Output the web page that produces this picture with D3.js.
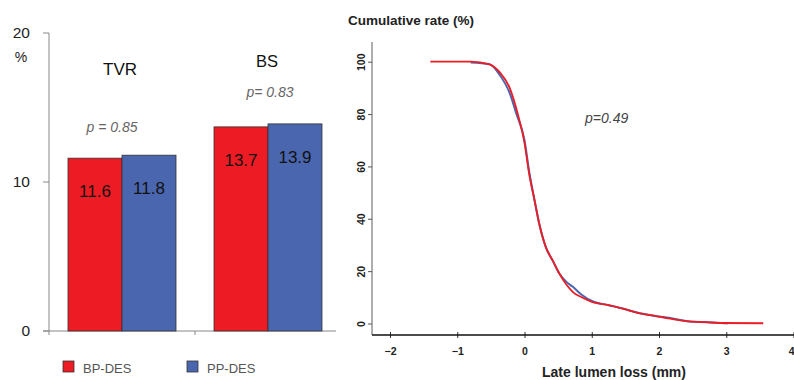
<!DOCTYPE html>
<html>
<head>
<meta charset="utf-8">
<script src="https://cdn.jsdelivr.net/npm/d3@7"></script>
<style>
  body { margin: 0; background: #fff; }
  svg { display: block; font-family: "Liberation Sans", Arial, sans-serif; }
</style>
</head>
<body>
<svg id="chart" width="794" height="380"></svg>
<script>
// left panel: event rates (%)
var endpoints = ['TVR', 'BS'];
var groups = ['BP-DES', 'PP-DES'];
var bpRates = [11.6, 13.7];
var ppRates = [11.8, 13.9];
var pValues = ['p = 0.85', 'p= 0.83'];
var rateTicks = [0, 10, 20];

// right panel: cumulative distribution of late lumen loss
var bpLoss = [-1.40, -0.80, -0.52, -0.37, -0.22, -0.10, 0.0, 0.07, 0.15, 0.22, 0.32, 0.42, 0.52, 0.62, 0.72, 0.85, 1.01, 1.25, 1.46, 1.70, 1.96, 2.20, 2.45, 2.70, 2.95, 3.55];
var bpCum  = [100, 100, 99, 96, 90, 80, 69, 57, 47, 38, 29, 24, 19, 15, 12, 10, 8.2, 7, 5.7, 4, 2.8, 1.7, 0.8, 0.5, 0.2, 0.1];
var ppLoss = [-0.80, -0.52, -0.37, -0.22, -0.12, 0.0, 0.07, 0.15, 0.22, 0.32, 0.42, 0.52, 0.62, 0.72, 0.85, 1.01, 1.25, 1.46, 1.70, 1.96, 2.15, 2.45, 2.70, 3.02];
var ppCum  = [99.7, 99, 95, 88, 80, 70, 58, 47, 38, 29, 24, 19, 16, 14, 11, 8.5, 7, 5.7, 4, 2.8, 2.2, 0.8, 0.5, 0];
var lossTicks = [-2, -1, 0, 1, 2, 3, 4];
var cumTicks = [0, 20, 40, 60, 80, 100];
var pCurve = 'p=0.49';

var RED = '#ed1c24', BLUE = '#4a66ae';

var svg = d3.select('#chart');

// ---------- bar chart ----------
var x0 = d3.scaleBand().domain(endpoints).range([49, 341]);
var x1 = d3.scaleBand().domain(groups).range([-54, 54]);
var yL = d3.scaleLinear().domain([0, 20]).range([331, 33]);

var left = svg.append('g');

left.append('line')
    .attr('x1', 49).attr('x2', 49)
    .attr('y1', yL(20)).attr('y2', yL(0))
    .attr('stroke', '#888');
left.append('line')
    .attr('x1', 43).attr('x2', 336)
    .attr('y1', yL(0)).attr('y2', yL(0))
    .attr('stroke', '#888');

rateTicks.forEach(function (t) {
    left.append('line')
        .attr('x1', 43).attr('x2', 49)
        .attr('y1', yL(t)).attr('y2', yL(t))
        .attr('stroke', '#888');
    left.append('text')
        .attr('x', 30).attr('y', yL(t) + 5)
        .attr('text-anchor', 'end')
        .attr('font-size', 15.5)
        .attr('fill', '#222')
        .text(t);
});
left.append('text')
    .attr('x', 21).attr('y', 62)
    .attr('text-anchor', 'middle')
    .attr('font-size', 14)
    .attr('fill', '#222')
    .text('%');

[49, 195].forEach(function (xx) {
    left.append('line')
        .attr('x1', xx).attr('x2', xx)
        .attr('y1', yL(0)).attr('y2', yL(0) + 4)
        .attr('stroke', '#888');
});

var barData = [];
endpoints.forEach(function (e, i) {
    barData.push({ ep: e, grp: groups[0], v: bpRates[i], c: RED });
    barData.push({ ep: e, grp: groups[1], v: ppRates[i], c: BLUE });
});

left.selectAll('rect.bar')
    .data(barData)
    .enter().append('rect')
    .attr('class', 'bar')
    .attr('x', d => x0(d.ep) + x0.bandwidth() / 2 + x1(d.grp))
    .attr('width', x1.bandwidth())
    .attr('y', d => yL(d.v))
    .attr('height', d => yL(0) - yL(d.v))
    .attr('fill', d => d.c)
    .attr('stroke', '#333')
    .attr('stroke-width', 0.8);

left.selectAll('text.val')
    .data(barData)
    .enter().append('text')
    .attr('class', 'val')
    .attr('x', d => x0(d.ep) + x0.bandwidth() / 2 + x1(d.grp) + x1.bandwidth() / 2)
    .attr('y', d => yL(d.v) + 39)
    .attr('text-anchor', 'middle')
    .attr('font-size', 17)
    .attr('fill', '#111')
    .text(d => d.v.toFixed(1));

// endpoint titles and p-values
var titleY = [75, 67], titleSize = [17, 16.5];
var pY = [132, 97], pX = [112, 270];
endpoints.forEach(function (e, i) {
    left.append('text')
        .attr('x', x0(e) + x0.bandwidth() / 2 - (i === 0 ? 2 : 1))
        .attr('y', titleY[i])
        .attr('text-anchor', 'middle')
        .attr('font-size', titleSize[i])
        .attr('fill', '#111')
        .text(e);
    left.append('text')
        .attr('x', pX[i]).attr('y', pY[i])
        .attr('text-anchor', 'middle')
        .attr('font-size', 14)
        .attr('font-style', 'italic')
        .attr('fill', '#666')
        .text(pValues[i]);
});

// legend
var legX = [63, 187], legColors = [RED, BLUE];
groups.forEach(function (g, i) {
    left.append('rect')
        .attr('x', legX[i]).attr('y', 361)
        .attr('width', 11).attr('height', 11)
        .attr('fill', legColors[i])
        .attr('stroke', '#333')
        .attr('stroke-width', 0.8);
    left.append('text')
        .attr('x', legX[i] + 20).attr('y', 373)
        .attr('font-size', 13)
        .attr('fill', '#555')
        .text(g);
});

// ---------- cumulative curves ----------
var xR = d3.scaleLinear().domain([-2, 4]).range([390, 793.5]);
var yR = d3.scaleLinear().domain([0, 100]).range([323.5, 61.7]);

var right = svg.append('g');

right.append('text')
    .attr('x', 348).attr('y', 25)
    .attr('font-size', 13.5)
    .attr('font-weight', 'bold')
    .attr('fill', '#222')
    .text('Cumulative rate (%)');

right.append('line')
    .attr('x1', 372).attr('x2', 372)
    .attr('y1', 42).attr('y2', 335)
    .attr('stroke', '#777').attr('stroke-width', 1.2);

var yAxis = d3.axisLeft(yR).tickValues(cumTicks).tickSize(4).tickFormat(d3.format('d'));
var gy = right.append('g').attr('transform', 'translate(372,0)').call(yAxis);
gy.select('.domain').remove();
gy.selectAll('.tick line').attr('stroke', '#555');
gy.selectAll('.tick text')
    .attr('x', 0).attr('y', 0).attr('dy', null)
    .attr('transform', 'translate(-7,0) rotate(-90)')
    .attr('text-anchor', 'middle')
    .attr('font-size', 10.5)
    .attr('font-weight', 'bold')
    .attr('font-family', '"Liberation Sans", Arial, sans-serif')
    .attr('fill', '#222');

var xAxis = d3.axisBottom(xR).tickValues(lossTicks).tickSize(3).tickFormat(d3.format('d'));
var gx = right.append('g').attr('transform', 'translate(0,335)').call(xAxis);
gx.select('.domain').remove();
gx.selectAll('.tick line').attr('y1', -3).attr('stroke', '#333');
gx.selectAll('.tick text')
    .attr('y', 0).attr('dy', 20)
    .attr('font-size', 10.5)
    .attr('font-weight', 'bold')
    .attr('font-family', '"Liberation Sans", Arial, sans-serif')
    .attr('fill', '#222');
// last label sits on the right edge: keep it inside the page
gx.selectAll('.tick text')
    .filter(d => d === lossTicks[lossTicks.length - 1])
    .attr('text-anchor', 'end')
    .attr('x', 0.5);
right.append('line')
    .attr('x1', 372).attr('x2', 794)
    .attr('y1', 335).attr('y2', 335)
    .attr('stroke', '#111').attr('stroke-width', 1.3);

right.append('text')
    .attr('x', 614).attr('y', 377)
    .attr('text-anchor', 'middle')
    .attr('font-size', 14)
    .attr('font-weight', 'bold')
    .attr('fill', '#222')
    .text('Late lumen loss (mm)');

var line = d3.line()
    .x(d => xR(d[0]))
    .y(d => yR(d[1]))
    .curve(d3.curveMonotoneX);

right.append('path')
    .datum(d3.zip(ppLoss, ppCum))
    .attr('d', line)
    .attr('fill', 'none')
    .attr('stroke', BLUE)
    .attr('stroke-width', 2);

right.append('path')
    .datum(d3.zip(bpLoss, bpCum))
    .attr('d', line)
    .attr('fill', 'none')
    .attr('stroke', RED)
    .attr('stroke-width', 1.8);

right.append('text')
    .attr('x', 585).attr('y', 123)
    .attr('font-size', 14)
    .attr('font-style', 'italic')
    .attr('fill', '#444')
    .text(pCurve);
</script>
</body>
</html>
